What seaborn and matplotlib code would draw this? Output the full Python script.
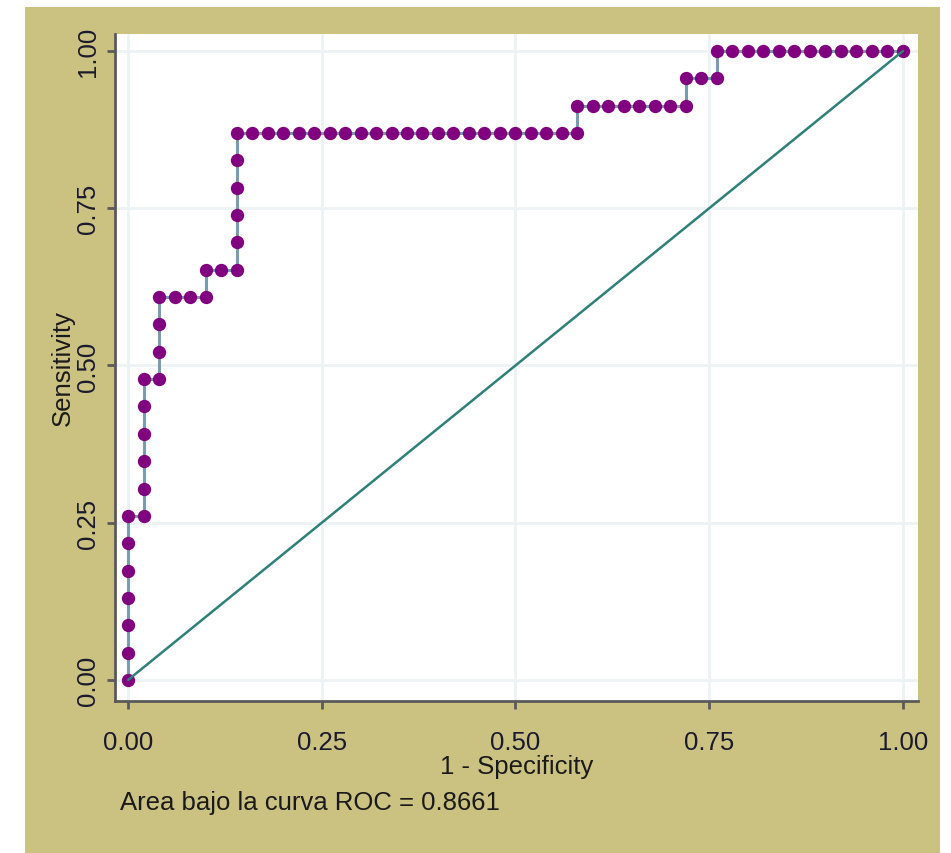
import matplotlib
matplotlib.use("Agg")
import matplotlib.pyplot as plt
from matplotlib import font_manager
from matplotlib.patches import Rectangle
import seaborn as sns
import pandas as pd

# ---- data ----
fpr = [0.00, 0.00, 0.00, 0.00, 0.00, 0.00, 0.00,
       0.02, 0.02, 0.02, 0.02, 0.02, 0.02,
       0.04, 0.04, 0.04, 0.04,
       0.06, 0.08, 0.10, 0.10, 0.12,
       0.14, 0.14, 0.14, 0.14, 0.14, 0.14,
       0.16, 0.18, 0.20, 0.22, 0.24, 0.26, 0.28, 0.30, 0.32, 0.34, 0.36,
       0.38, 0.40, 0.42, 0.44, 0.46, 0.48, 0.50, 0.52, 0.54, 0.56,
       0.58, 0.58,
       0.60, 0.62, 0.64, 0.66, 0.68, 0.70,
       0.72, 0.72, 0.74, 0.76, 0.76,
       0.78, 0.80, 0.82, 0.84, 0.86, 0.88, 0.90, 0.92, 0.94, 0.96, 0.98, 1.00]
tpr = [0.0000, 0.0435, 0.0870, 0.1304, 0.1739, 0.2174, 0.2609,
       0.2609, 0.3043, 0.3478, 0.3913, 0.4348, 0.4783,
       0.4783, 0.5217, 0.5652, 0.6087,
       0.6087, 0.6087, 0.6087, 0.6522, 0.6522,
       0.6522, 0.6957, 0.7391, 0.7826, 0.8261, 0.8696,
       0.8696, 0.8696, 0.8696, 0.8696, 0.8696, 0.8696, 0.8696, 0.8696, 0.8696, 0.8696, 0.8696,
       0.8696, 0.8696, 0.8696, 0.8696, 0.8696, 0.8696, 0.8696, 0.8696, 0.8696, 0.8696,
       0.8696, 0.9130,
       0.9130, 0.9130, 0.9130, 0.9130, 0.9130, 0.9130,
       0.9130, 0.9565, 0.9565, 0.9565, 1.0000,
       1.0000, 1.0000, 1.0000, 1.0000, 1.0000, 1.0000, 1.0000, 1.0000, 1.0000, 1.0000, 1.0000, 1.0000]
ref_x = [0.0, 1.0]
ref_y = [0.0, 1.0]
ticks = [0.00, 0.25, 0.50, 0.75, 1.00]
tick_labels = ["0.00", "0.25", "0.50", "0.75", "1.00"]
auc_text = "Area bajo la curva ROC = 0.8661"
xlabel = "1 - Specificity"
ylabel = "Sensitivity"

df = pd.DataFrame({"fpr": fpr, "tpr": tpr})
ref = pd.DataFrame({"x": ref_x, "y": ref_y})

sns.set_theme(style="white")
names = {f.name for f in font_manager.fontManager.ttflist}
if "Liberation Sans Narrow" in names:
    fam = ["Liberation Sans Narrow", "DejaVu Sans"]
    fs = 22
else:
    fam = ["Liberation Sans", "DejaVu Sans"]
    fs = 18.5
plt.rcParams["font.family"] = fam

TAN = "#cbc282"
fig = plt.figure(figsize=(9.51, 8.54), dpi=100, facecolor="white")
bg = Rectangle((25 / 951, 0), (940 - 25) / 951, (854 - 8) / 854,
               transform=fig.transFigure, facecolor=TAN, edgecolor="none")
bg.set_zorder(-10)
fig.patches.append(bg)
ax = fig.add_axes([115 / 951, (854 - 702) / 854, (918 - 115) / 951, (702 - 35) / 854])
ax.set_zorder(1)
ax.set_facecolor("white")

sns.lineplot(data=df, x="fpr", y="tpr", sort=False, estimator=None,
             color="#7b9bb0", linewidth=2.2, ax=ax, zorder=2)
sns.scatterplot(data=df, x="fpr", y="tpr", color="#800080", s=92,
                linewidth=0, ax=ax, zorder=3)
sns.lineplot(data=ref, x="x", y="y", sort=False, estimator=None,
             color="#2e8078", linewidth=1.8, ax=ax, zorder=4)

ax.set_xlim(-0.0168, 1.0194)
ax.set_ylim(-0.0334, 1.027)
ax.set_xticks(ticks)
ax.set_xticklabels(tick_labels, fontsize=fs, color="#1a1a2e")
ax.set_yticks(ticks)
ax.set_yticklabels(tick_labels, fontsize=fs, color="#1a1a2e", rotation=90, va="center")
ax.grid(True, color="#edf3f4", linewidth=2)
ax.set_axisbelow(True)
for s in ["top", "right"]:
    ax.spines[s].set_visible(False)
for s in ["left", "bottom"]:
    ax.spines[s].set_color("#5a5a5a")
    ax.spines[s].set_linewidth(2)
ax.tick_params(axis="both", direction="out", length=6, width=2, color="#5a5a5a",
               bottom=True, left=True)
ax.tick_params(axis="x", pad=15)
ax.tick_params(axis="y", pad=4.5)
ax.set_xlabel(xlabel, fontsize=fs, color="#1a1a1a", labelpad=0)
ax.set_ylabel(ylabel, fontsize=fs, color="#1a1a1a", labelpad=1)

fig.text(120 / 951, 1 - 803 / 854, auc_text, fontsize=fs, color="#1a1a1a",
         ha="left", va="center")

fig.savefig("out.png", dpi=100, facecolor="white")
